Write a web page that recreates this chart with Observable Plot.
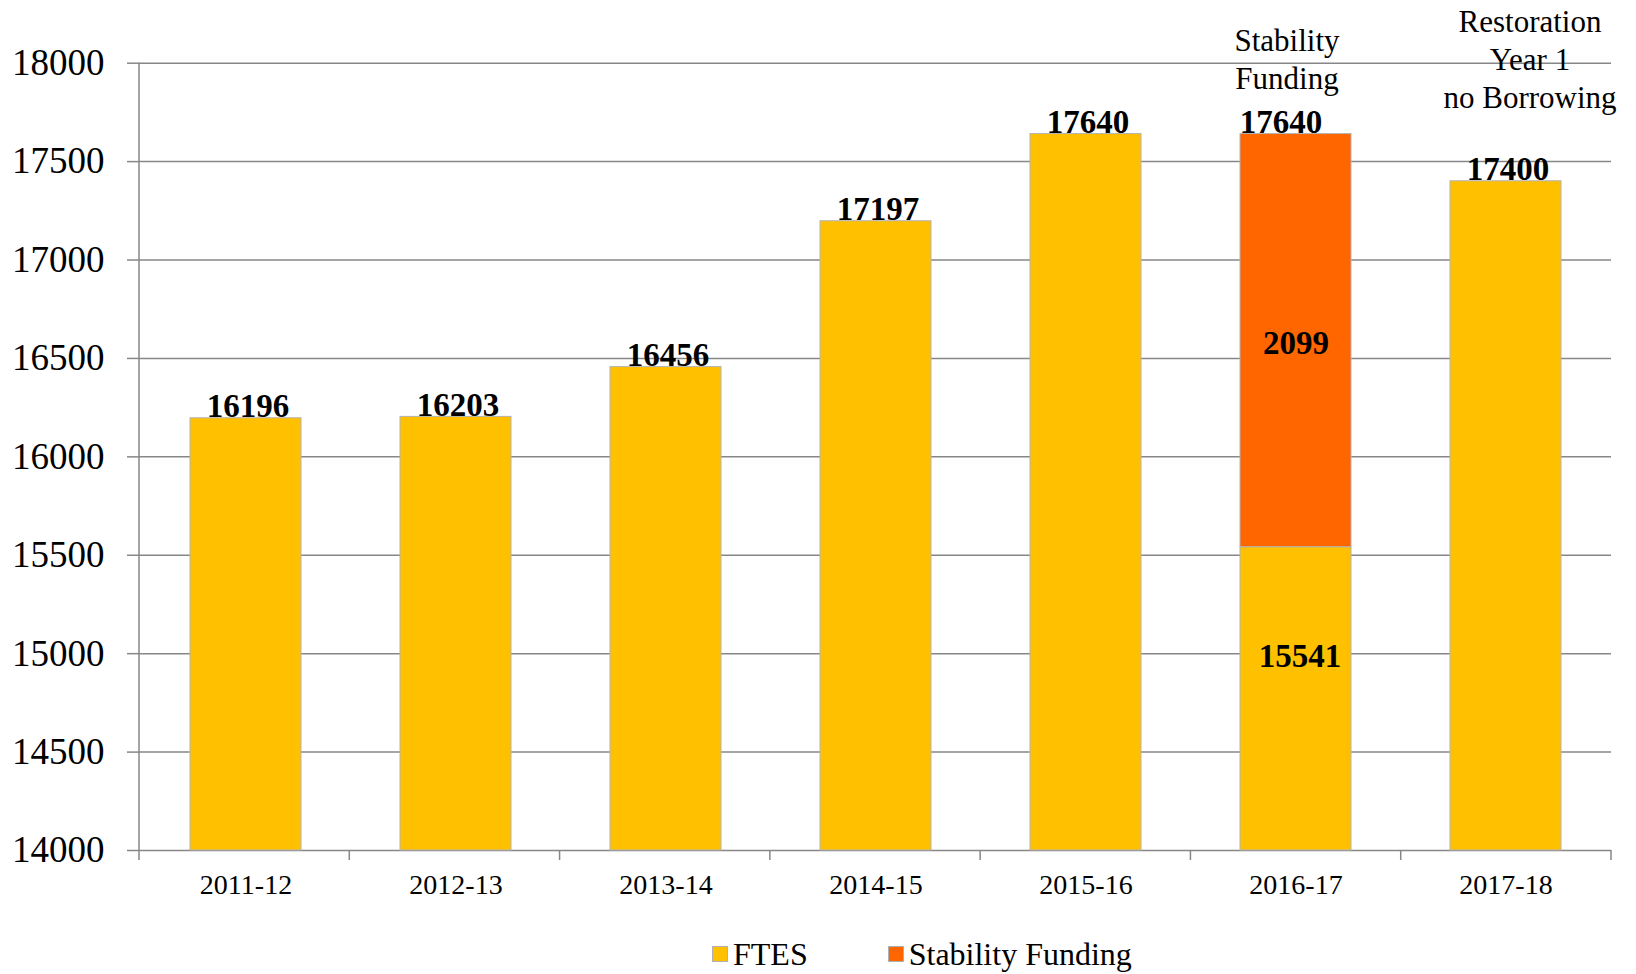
<!DOCTYPE html>
<html>
<head>
<meta charset="utf-8">
<script src="https://cdn.jsdelivr.net/npm/d3@7"></script>
<script src="https://cdn.jsdelivr.net/npm/@observablehq/plot@0.6"></script>
<style>
  body { margin: 0; background: #fff; }
  #wrap { position: relative; width: 1636px; height: 974px; font-family: "Liberation Serif", "Times New Roman", serif; background: #fff; }
  #wrap svg { position: absolute; left: 0; top: 0; }
  #wrap svg text { font-family: "Liberation Serif", "Times New Roman", serif; }
  #legend { position: absolute; left: 712px; top: 936px; height: 36px; display: flex; align-items: center; font-size: 32px; line-height: 36px; color: #000; }
  #legend .item { display: flex; align-items: center; }
  #legend .item + .item { margin-left: 80px; }
  #legend .sw { width: 16px; height: 16px; box-sizing: border-box; border: 1px solid #b0b0b0; margin-right: 5px; }
</style>
</head>
<body>
<div id="wrap"></div>
<script>
// ---- data ----
const years = ["2011-12", "2012-13", "2013-14", "2014-15", "2015-16", "2016-17", "2017-18"];
const ftes = [16196, 16203, 16456, 17197, 17640, 15541, 17400];
const stability = [0, 0, 0, 0, 0, 2099, 0];
const seriesNames = ["FTES", "Stability Funding"];
const seriesColors = ["#FFC000", "#FF6600"];
const yTicks = [14000, 14500, 15000, 15500, 16000, 16500, 17000, 17500, 18000];
const yDomain = [14000, 18000];
const annotationStability = [{year: "2016-17", text: "Stability\nFunding"}];
const annotationRestoration = [{year: "2017-18", text: "Restoration\nYear 1\nno Borrowing"}];

// ---- derived tables ----
const segments = [];
years.forEach((y, i) => {
  segments.push({year: y, series: seriesNames[0], y1: yDomain[0], y2: ftes[i]});
  if (stability[i] > 0) segments.push({year: y, series: seriesNames[1], y1: ftes[i], y2: ftes[i] + stability[i]});
});
const singles = years.map((y, i) => ({year: y, total: ftes[i] + stability[i], stacked: stability[i] > 0}));
const plainTotals = singles.filter(d => !d.stacked);
const stackedTotals = singles.filter(d => d.stacked);
const stabSegs = years.map((y, i) => ({year: y, ftes: ftes[i], stab: stability[i]})).filter(d => d.stab > 0);

const W = 1636, H = 920;
const font = "Liberation Serif";

// boundary ticks on the x axis + vertical y axis line (band edges from the frame dimensions)
function axisDecor(index, scales, values, dimensions) {
  const {width, height, marginLeft, marginRight, marginTop, marginBottom} = dimensions;
  const step = (width - marginLeft - marginRight) / years.length;
  const y0 = height - marginBottom;
  const g = d3.create("svg:g").attr("stroke", "#878787").attr("stroke-width", 1.5);
  for (let i = 0; i <= years.length; i++) {
    const bx = marginLeft + i * step;
    g.append("line").attr("x1", bx).attr("x2", bx).attr("y1", y0).attr("y2", y0 + 10);
  }
  g.append("line").attr("x1", marginLeft).attr("x2", marginLeft).attr("y1", marginTop).attr("y2", y0);
  return g.node();
}

const chart = Plot.plot({
  width: W,
  height: H,
  marginLeft: 139,
  marginRight: 25,
  marginTop: 62.7,
  marginBottom: 70,
  style: {fontFamily: font, background: "white", color: "black", overflow: "visible"},
  x: {domain: years, paddingInner: 0.472, paddingOuter: 0.236, label: null},
  y: {domain: yDomain, label: null},
  color: {domain: seriesNames, range: seriesColors},
  marks: [
    Plot.ruleY(yTicks, {stroke: "#878787", strokeWidth: 1.5}),
    Plot.barY(segments, {x: "year", y1: "y1", y2: "y2", fill: "series", stroke: "#b3b3b3", strokeWidth: 1}),
    axisDecor,
    Plot.axisY(yTicks, {tickSize: 12, tickPadding: 23, fontSize: 37, fontFamily: font, tickFormat: d => String(d),
      stroke: "#878787", strokeWidth: 1.5, fill: "black", label: null}),
    Plot.axisX({tickSize: 0, tickPadding: 24, fontSize: 28, fontFamily: font, fill: "black", label: null}),
    // totals above single bars
    Plot.text(plainTotals, {x: "year", y: "total", text: d => String(d.total), lineAnchor: "bottom", dy: -1, dx: 2,
      fontSize: 33, fontWeight: "bold", fontFamily: font, fill: "black"}),
    // total above stacked bar
    Plot.text(stackedTotals, {x: "year", y: "total", text: d => String(d.total), lineAnchor: "bottom", dy: -1, dx: -15,
      fontSize: 33, fontWeight: "bold", fontFamily: font, fill: "black"}),
    // stability segment label
    Plot.text(stabSegs, {x: "year", y: d => d.ftes + d.stab / 2, text: d => String(d.stab), lineAnchor: "middle", dy: 3,
      fontSize: 33, fontWeight: "bold", fontFamily: font, fill: "black"}),
    // FTES segment label in stacked bar
    Plot.text(stabSegs, {x: "year", y: d => (yDomain[0] + d.ftes) / 2, text: d => String(d.ftes), lineAnchor: "middle", dy: -42, dx: 4,
      fontSize: 33, fontWeight: "bold", fontFamily: font, fill: "black"}),
    // annotations above bars
    Plot.text(annotationStability, {x: "year", text: "text", frameAnchor: "top", lineAnchor: "top", dy: -39, dx: -9,
      lineHeight: 1.22, fontSize: 31, fontFamily: font, fill: "black"}),
    Plot.text(annotationRestoration, {x: "year", text: "text", frameAnchor: "top", lineAnchor: "top", dy: -58, dx: 24,
      lineHeight: 1.22, fontSize: 31, fontFamily: font, fill: "black"})
  ]
});

const wrap = document.getElementById("wrap");
wrap.appendChild(chart);

const legend = document.createElement("div");
legend.id = "legend";
seriesNames.forEach((name, i) => {
  const item = document.createElement("div");
  item.className = "item";
  const sw = document.createElement("div");
  sw.className = "sw";
  sw.style.background = seriesColors[i];
  const lab = document.createElement("span");
  lab.textContent = name;
  item.appendChild(sw);
  item.appendChild(lab);
  legend.appendChild(item);
});
wrap.appendChild(legend);
</script>
</body>
</html>
